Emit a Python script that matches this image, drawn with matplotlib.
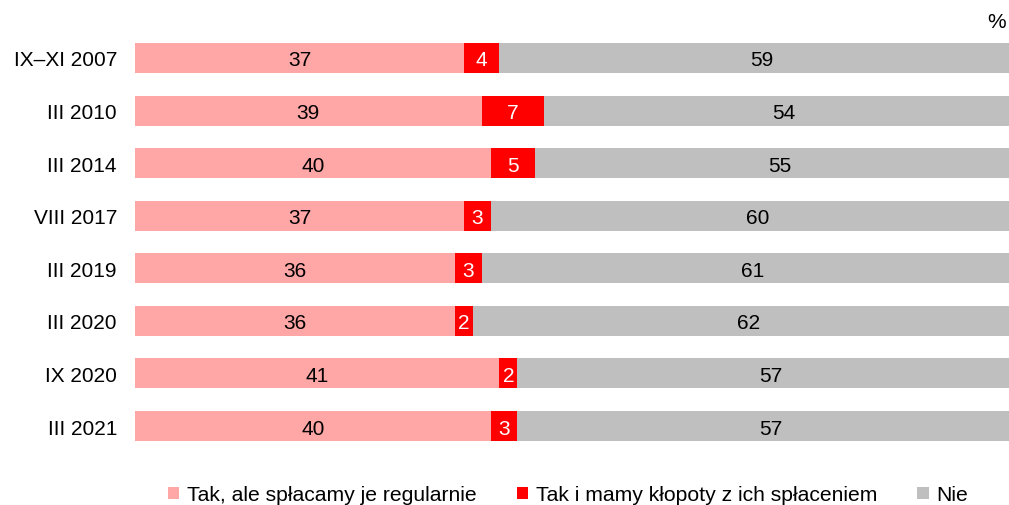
import matplotlib
matplotlib.use("Agg")
import matplotlib.pyplot as plt
from matplotlib.patches import Patch

plt.rcParams['font.family'] = ['Liberation Sans', 'DejaVu Sans']

categories = ["IX–XI 2007", "III 2010", "III 2014", "VIII 2017", "III 2019", "III 2020", "IX 2020", "III 2021"]
tak_regularnie = [37, 39, 40, 37, 36, 36, 41, 40]
tak_klopoty = [4, 7, 5, 3, 3, 2, 2, 3]
nie = [59, 54, 55, 60, 61, 62, 57, 57]
series_names = ["Tak, ale spłacamy je regularnie", "Tak i mamy kłopoty z ich spłaceniem", "Nie"]
colors = ["#FFA6A6", "#FF0000", "#BFBFBF"]
text_colors = ["black", "white", "black"]

W, H = 1009, 506
fig = plt.figure(figsize=(W / 100, H / 100), dpi=100)
ax = fig.add_axes([135 / W, 1 - 453.3 / H, 1 - 135 / W, (453.3 - 32.7) / H])

ypos = list(range(len(categories)))
left = [0] * len(categories)
for vals, col, tcol in zip([tak_regularnie, tak_klopoty, nie], colors, text_colors):
    ax.barh(ypos, vals, left=left, height=0.57, color=col, edgecolor='none')
    for y, l, v in zip(ypos, left, vals):
        ax.text(l + v / 2, y, str(v), ha='center', va='center_baseline', color=tcol, fontsize=15)
    left = [a + b for a, b in zip(left, vals)]

ax.set_xlim(0, 874 / 8.89)
ax.set_ylim(len(categories) - 0.5, -0.5)
ax.set_yticks(ypos)
ax.set_yticklabels(categories, fontsize=15)
ax.tick_params(axis='y', length=0, pad=13)
ax.set_xticks([])
for s in ax.spines.values():
    s.set_visible(False)

fig.text(1006 / W, 1 - 22 / H, "%", ha='right', va='center', fontsize=15)

handles = [Patch(facecolor=c, edgecolor='none') for c in colors]
fig.legend(handles, series_names, loc='center', bbox_to_anchor=(568 / W, 1 - 496 / H),
           ncol=3, frameon=False, fontsize=15.2, handlelength=0.53, handleheight=0.53,
           handletextpad=0.38, columnspacing=1.9, borderpad=0, borderaxespad=0)

fig.savefig("out.png", dpi=100)
